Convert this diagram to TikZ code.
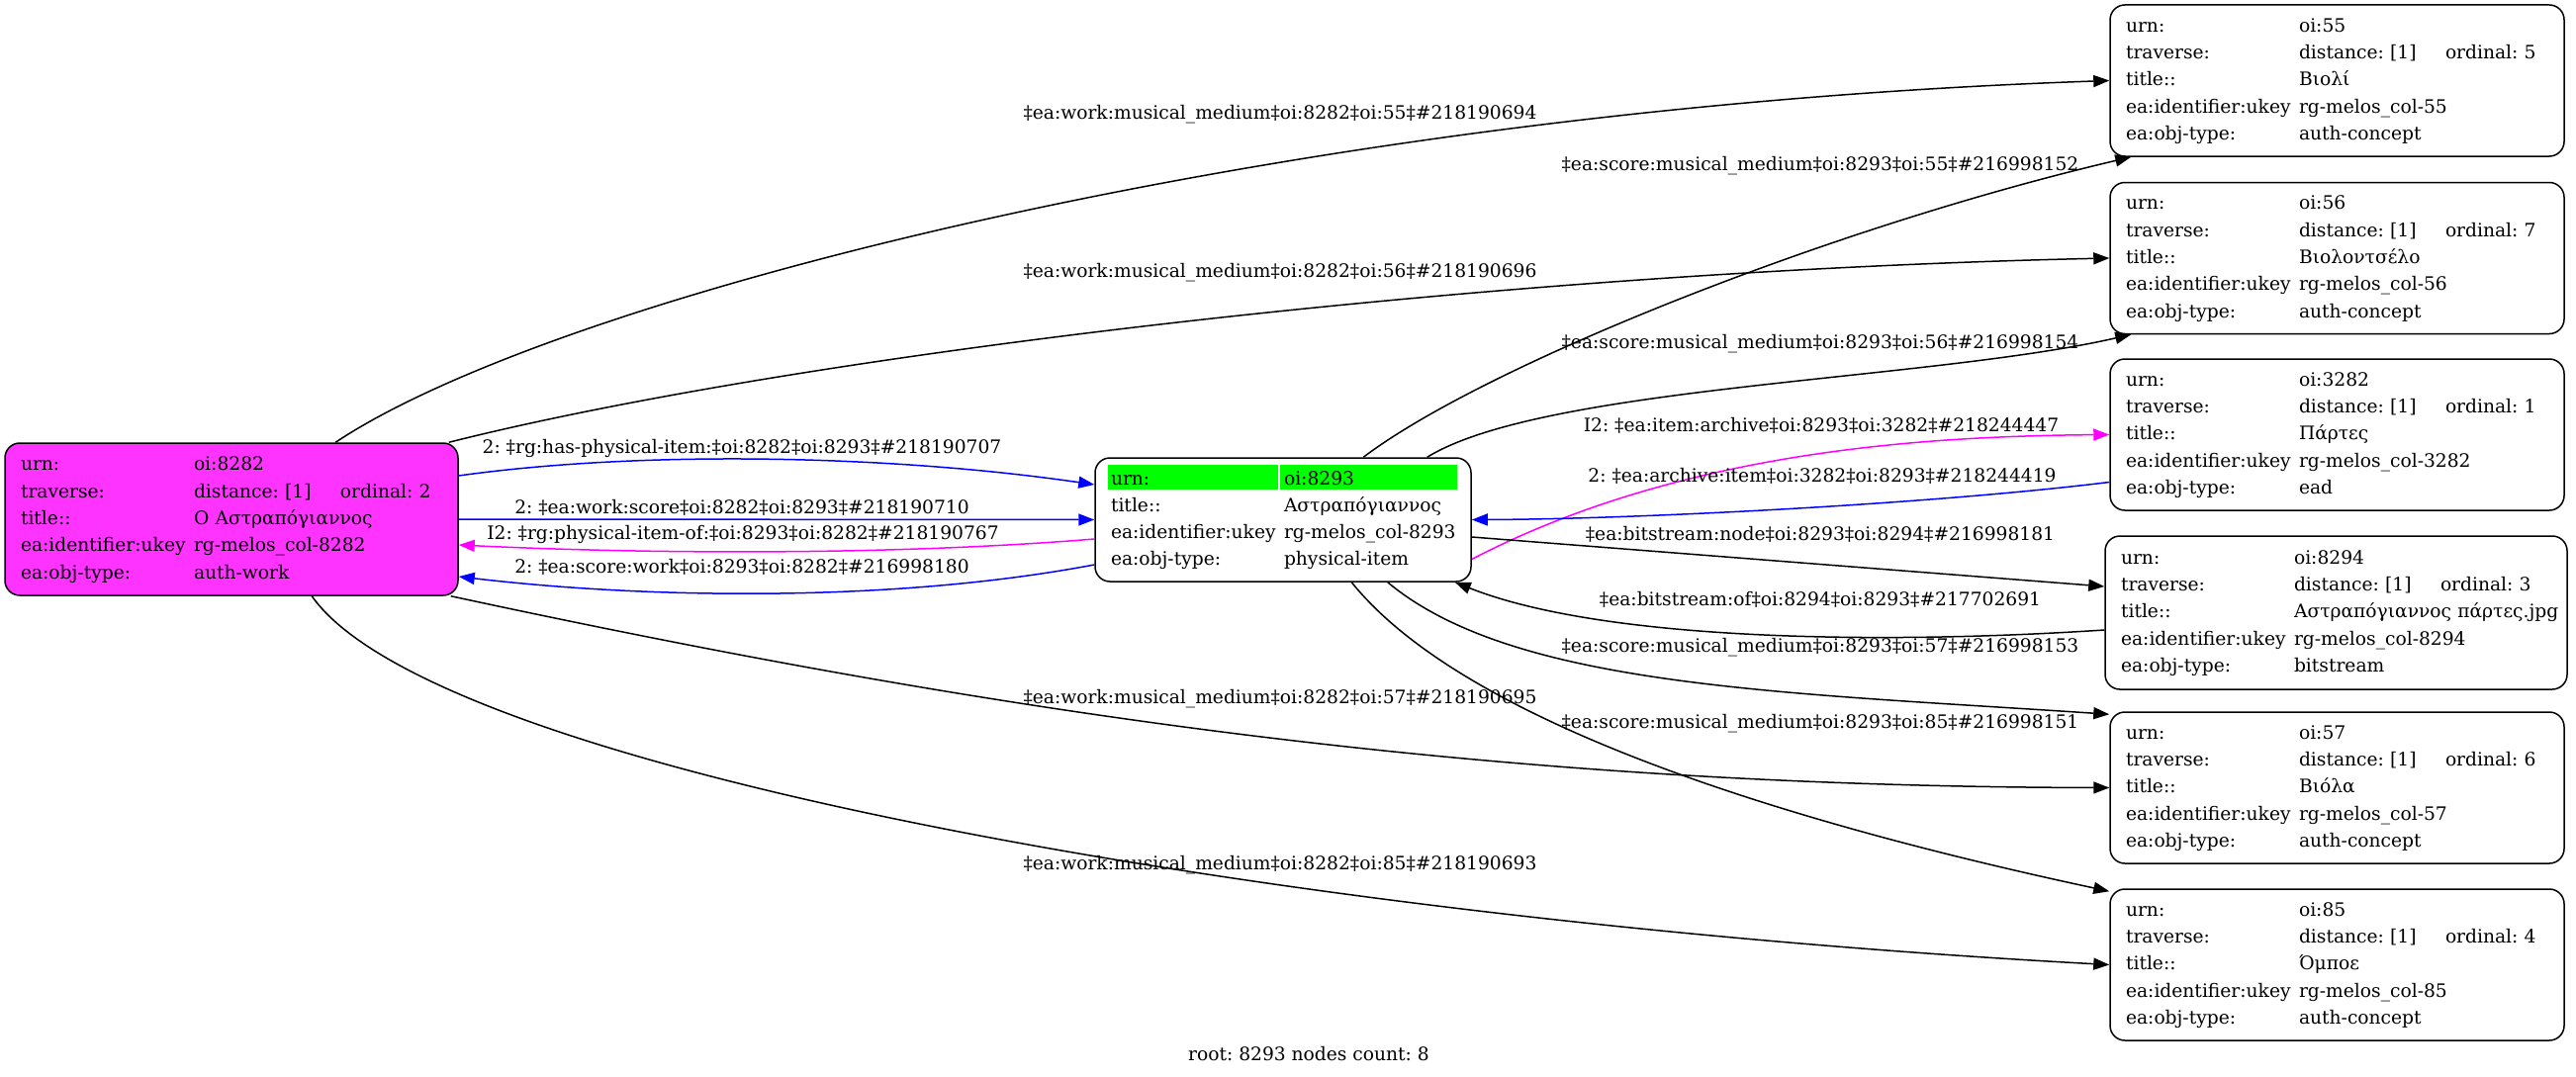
\documentclass[tikz,border=0pt]{standalone}
\usepackage{fontspec}
\setmainfont{DejaVu Serif}
\usetikzlibrary{arrows.meta,calc}
\definecolor{nodemag}{RGB}{255,51,255}
\definecolor{hlgreen}{RGB}{0,255,0}
\definecolor{edgeblue}{RGB}{0,0,255}
\definecolor{edgemag}{RGB}{255,0,255}
\pgfdeclarelayer{back}
\pgfdeclarelayer{hl}
\pgfsetlayers{back,hl,main}
\newcommand{\kvrow}[2]{\strut\rlap{\makebox[175pt][l]{#1}#2}}
\newcommand{\travrow}[1]{\strut\rlap{\makebox[175pt][l]{traverse:}\makebox[148pt][l]{distance: [1]}ordinal: #1}}
\begin{document}
\begin{tikzpicture}[x=1pt,y=-1pt,
  every node/.style={font=\fontsize{18.67}{27.3}\selectfont\frenchspacing},
  rec/.style={draw, line width=1.5pt, rounded corners=15pt, align=left, inner xsep=16pt, inner ysep=0pt, anchor=center},
  lbl/.style={inner sep=0pt, anchor=center},
  conn/.style={line width=1.5pt, -{Triangle[length=16pt,width=12pt]}},
]
\begin{pgfonlayer}{back}
\fill[white] (0,0) rectangle (2604,1089);
\end{pgfonlayer}
\useasboundingbox (0,0) rectangle (2604,1089);

% nodes
\node[rec, fill=nodemag, text width=426pt, minimum height=154pt] (n8282) at (234,525)
 {\kvrow{urn:}{oi:8282}\\\travrow{2}\\\kvrow{title::}{Ο Αστραπόγιαννος}\\\kvrow{ea:identifier:ukey}{rg-melos\_col-8282}\\\kvrow{ea:obj-type:}{auth-work}};
\node[rec, text width=348pt, minimum height=125pt] (n8293) at (1297,525.5)
 {\kvrow{urn:}{oi:8293}\\\kvrow{title::}{Αστραπόγιαννος}\\\kvrow{ea:identifier:ukey}{rg-melos\_col-8293}\\\kvrow{ea:obj-type:}{physical-item}};
\node[rec, text width=427pt, minimum height=153pt] (n55) at (2362.5,81.5)
 {\kvrow{urn:}{oi:55}\\\travrow{5}\\\kvrow{title::}{Βιολί}\\\kvrow{ea:identifier:ukey}{rg-melos\_col-55}\\\kvrow{ea:obj-type:}{auth-concept}};
\node[rec, text width=427pt, minimum height=153pt] (n56) at (2362.5,261)
 {\kvrow{urn:}{oi:56}\\\travrow{7}\\\kvrow{title::}{Βιολοντσέλο}\\\kvrow{ea:identifier:ukey}{rg-melos\_col-56}\\\kvrow{ea:obj-type:}{auth-concept}};
\node[rec, text width=427pt, minimum height=153pt] (n3282) at (2362.5,439.5)
 {\kvrow{urn:}{oi:3282}\\\travrow{1}\\\kvrow{title::}{Πάρτες}\\\kvrow{ea:identifier:ukey}{rg-melos\_col-3282}\\\kvrow{ea:obj-type:}{ead}};
\node[rec, text width=435pt, minimum height=155pt] (n8294) at (2361.5,619.5)
 {\kvrow{urn:}{oi:8294}\\\travrow{3}\\\kvrow{title::}{Αστραπόγιαννος πάρτες.jpg}\\\kvrow{ea:identifier:ukey}{rg-melos\_col-8294}\\\kvrow{ea:obj-type:}{bitstream}};
\node[rec, text width=427pt, minimum height=153pt] (n57) at (2362.5,796.5)
 {\kvrow{urn:}{oi:57}\\\travrow{6}\\\kvrow{title::}{Βιόλα}\\\kvrow{ea:identifier:ukey}{rg-melos\_col-57}\\\kvrow{ea:obj-type:}{auth-concept}};
\node[rec, text width=427pt, minimum height=153pt] (n85) at (2362.5,975.5)
 {\kvrow{urn:}{oi:85}\\\travrow{4}\\\kvrow{title::}{Όμποε}\\\kvrow{ea:identifier:ukey}{rg-melos\_col-85}\\\kvrow{ea:obj-type:}{auth-concept}};

% green highlight of urn row in the root node
\begin{pgfonlayer}{hl}
\fill[hlgreen] ($(n8293.north west)+(14,8)$) rectangle ($(n8293.north west)+(186,33)$);
\fill[hlgreen] ($(n8293.north west)+(188,8)$) rectangle ($(n8293.north west)+(367,33)$);
\end{pgfonlayer}

% connectors
\draw[conn] ([xshift=335pt]n8282.north west) .. controls (560,300) and (1300,110) .. (n55.west);
\draw[conn] ([xshift=-10pt]n8282.north east) .. controls (800,360) and (1500,275) .. (n56.west);
\draw[conn] ([xshift=-8pt]n8282.south east) .. controls (1000,720) and (1500,795) .. (n57.west);
\draw[conn] ([xshift=311pt]n8282.south west) .. controls (440,780) and (1300,930) .. (n85.west);

\draw[conn, edgeblue] ([yshift=44pt]n8282.east) .. controls (650,455) and (900,460) .. ([yshift=35.5pt]n8293.west);
\draw[conn, edgeblue] (n8282.east) -- (n8293.west);
\draw[conn, edgemag] ([yshift=-19.5pt]n8293.west) .. controls (900,562) and (650,560) .. ([yshift=-26pt]n8282.east);
\draw[conn, edgeblue] ([yshift=-45.5pt]n8293.west) .. controls (900,610) and (650,605) .. ([yshift=-58pt]n8282.east);

\draw[conn, edgemag] ([yshift=-40pt]n8293.east) .. controls (1700,455) and (1950,441) .. (n3282.west);
\draw[conn, edgeblue] ([yshift=-48pt]n3282.west) .. controls (1950,510) and (1650,525) .. (n8293.east);
\draw[conn] ([yshift=-17.5pt]n8293.east) -- ([yshift=26.5pt]n8294.west);
\draw[conn] ([yshift=-17.5pt]n8294.west) .. controls (1900,652) and (1620,648) .. ([xshift=-17pt]n8293.south east);
\draw[conn] ([xshift=-85pt]n8293.south east) .. controls (1530,695) and (1800,700) .. ([yshift=-3pt]n57.north west);
\draw[conn] ([xshift=272pt]n8293.north west) .. controls (1500,370) and (1850,230) .. ([xshift=22pt]n55.south west);
\draw[conn] ([xshift=-45pt]n8293.north east) .. controls (1560,390) and (1950,385) .. ([xshift=22pt]n56.south west);
\draw[conn] ([xshift=260pt]n8293.south west) .. controls (1480,730) and (1800,830) .. ([yshift=-3pt]n85.north west);

% labels
\node[lbl] (l1) at (1294,116) {‡ea:work:musical\_medium‡oi:8282‡oi:55‡\#218190694};
\node[lbl] (l2) at (1294,276) {‡ea:work:musical\_medium‡oi:8282‡oi:56‡\#218190696};
\node[lbl] (l3) at (1294,707) {‡ea:work:musical\_medium‡oi:8282‡oi:57‡\#218190695};
\node[lbl] (l4) at (1294,875) {‡ea:work:musical\_medium‡oi:8282‡oi:85‡\#218190693};
\node[lbl] (l5) at (750,453) {2: ‡rg:has-physical-item:‡oi:8282‡oi:8293‡\#218190707};
\node[lbl] (l6) at (750,513) {2: ‡ea:work:score‡oi:8282‡oi:8293‡\#218190710};
\node[lbl] (l7) at (751,540) {I2: ‡rg:physical-item-of:‡oi:8293‡oi:8282‡\#218190767};
\node[lbl] (l8) at (750,573) {2: ‡ea:score:work‡oi:8293‡oi:8282‡\#216998180};
\node[lbl] (l9) at (1841,430) {I2: ‡ea:item:archive‡oi:8293‡oi:3282‡\#218244447};
\node[lbl] (l10) at (1842,481) {2: ‡ea:archive:item‡oi:3282‡oi:8293‡\#218244419};
\node[lbl] (l11) at (1840,540) {‡ea:bitstream:node‡oi:8293‡oi:8294‡\#216998181};
\node[lbl] (l12) at (1840,606) {‡ea:bitstream:of‡oi:8294‡oi:8293‡\#217702691};
\node[lbl] (l13) at (1840,655) {‡ea:score:musical\_medium‡oi:8293‡oi:57‡\#216998153};
\node[lbl] (l14) at (1840,168) {‡ea:score:musical\_medium‡oi:8293‡oi:55‡\#216998152};
\node[lbl] (l15) at (1840,348) {‡ea:score:musical\_medium‡oi:8293‡oi:56‡\#216998154};
\node[lbl] (l16) at (1840,732) {‡ea:score:musical\_medium‡oi:8293‡oi:85‡\#216998151};
\node[lbl] (root) at (1323,1066) {root: 8293 nodes count: 8};
\end{tikzpicture}
\end{document}
